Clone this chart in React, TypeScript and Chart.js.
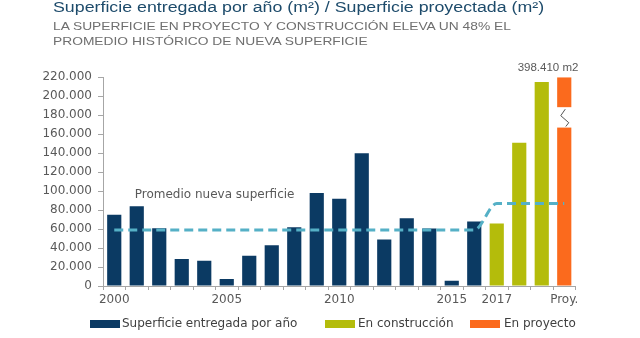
import React, { useEffect, useRef } from 'react';
import { Chart, registerables } from 'chart.js';

Chart.register(...registerables);

const categories = [
  '2000', '2001', '2002', '2003', '2004', '2005', '2006', '2007', '2008', '2009',
  '2010', '2011', '2012', '2013', '2014', '2015', '2016', '2017', '2018', '2019', 'Proy.',
];
const shownTickLabels = ['2000', '2005', '2010', '2015', '2017', 'Proy.'];

const delivered = [
  75000, 84000, 61000, 28500, 26500, 7500, 32000, 43000, 62000, 98000,
  92000, 140000, 49000, 71500, 60500, 5500, 68000, null, null, null, null,
];
const underConstruction = [
  null, null, null, null, null, null, null, null, null, null,
  null, null, null, null, null, null, null, 66000, 151000, 215000, null,
];
// projected bar is cut at the top of the axis (broken bar)
const projected = [
  null, null, null, null, null, null, null, null, null, null,
  null, null, null, null, null, null, null, null, null, null, 220000,
];
const averageNew = [
  59000, 59000, 59000, 59000, 59000, 59000, 59000, 59000, 59000, 59000,
  59000, 59000, 59000, 59000, 59000, 59000, 59000, 87000, 87000, 87000, 87000,
];
const projectedTotal = 398410;
const breakLow = 167000;
const breakHigh = 188500;
const avgLabelValue = 93000;

const yMax = 220000;
const yStep = 20000;

const C_BLUE = '#0b3a63';
const C_GREEN = '#b4bc0b';
const C_ORANGE = '#fb6a1d';
const C_LINE = '#55b0c6';
const C_TEXT = '#595959';
const C_AXIS = '#a6a6a6';

const fmt = (v: number) => String(v).replace(/\B(?=(\d{3})+(?!\d))/g, '.');

const annotations = {
  id: 'annotations',
  afterDatasetsDraw(chart: any) {
    const { ctx, scales } = chart;
    const x = scales.x;
    const y = scales.y;
    const idx = categories.length - 1;
    const meta = chart.getDatasetMeta(2);
    const bar = meta.data[idx] as any;
    const cx = bar ? bar.x : x.getPixelForValue(idx);
    const w = bar ? bar.width : 14;
    const yTop = y.getPixelForValue(breakHigh);
    const yBot = y.getPixelForValue(breakLow);
    ctx.save();
    ctx.fillStyle = '#ffffff';
    ctx.fillRect(cx - w / 2 - 1, yTop, w + 2, yBot - yTop);
    ctx.strokeStyle = '#555555';
    ctx.lineWidth = 1;
    ctx.beginPath();
    ctx.moveTo(cx + 1, yTop + 2);
    ctx.lineTo(cx - 3.5, yTop + 8.5);
    ctx.lineTo(cx + 4.5, yTop + 15.5);
    ctx.lineTo(cx + 1.5, yBot - 1);
    ctx.stroke();

    // total label above projected bar
    ctx.fillStyle = C_TEXT;
    ctx.font = '11.5px "Liberation Sans", Arial, sans-serif';
    ctx.textAlign = 'center';
    ctx.textBaseline = 'alphabetic';
    const lx = (x.getPixelForValue(idx - 1) + x.getPixelForValue(idx)) / 2 - 5;
    ctx.fillText(`${fmt(projectedTotal)} m2`, lx, y.getPixelForValue(yMax) - 6);

    // average label
    ctx.textAlign = 'left';
    ctx.font = '12px "DejaVu Sans", sans-serif';
    ctx.fillText('Promedio nueva superficie', x.getPixelForValue(1) - 2, y.getPixelForValue(avgLabelValue));
    ctx.restore();
  },
};

const legendItems = [
  { label: 'Superficie entregada por año', color: C_BLUE, box: 90, text: 122 },
  { label: 'En construcción', color: C_GREEN, box: 325, text: 358 },
  { label: 'En proyecto', color: C_ORANGE, box: 470, text: 504 },
];

export default function App() {
  const ref = useRef<HTMLCanvasElement | null>(null);

  useEffect(() => {
    if (!ref.current) return;
    const chart = new Chart(ref.current, {
      type: 'bar',
      data: {
        labels: categories,
        datasets: [
          {
            type: 'line',
            label: 'Promedio nueva superficie',
            data: averageNew,
            borderColor: C_LINE,
            borderWidth: 3,
            borderDash: [9, 5],
            pointRadius: 0,
            fill: false,
            cubicInterpolationMode: 'monotone',
            order: 0,
          } as any,
          {
            label: 'Superficie entregada por año',
            data: delivered,
            backgroundColor: C_BLUE,
            skipNull: true,
            order: 1,
          } as any,
          {
            label: 'En proyecto',
            data: projected,
            backgroundColor: C_ORANGE,
            skipNull: true,
            order: 1,
          } as any,
          {
            label: 'En construcción',
            data: underConstruction,
            backgroundColor: C_GREEN,
            skipNull: true,
            order: 1,
          } as any,
        ],
      },
      options: {
        responsive: false,
        animation: false,
        devicePixelRatio: 1,
        datasets: {
          bar: { barPercentage: 0.63, categoryPercentage: 1 },
        },
        layout: { padding: { left: 0, right: 64.5, top: 77.3, bottom: 30 } },
        plugins: {
          legend: { display: false },
          tooltip: { enabled: false },
          title: { display: false },
        },
        scales: {
          x: {
            grid: {
              display: true,
              drawOnChartArea: false,
              drawTicks: true,
              tickLength: 4,
              color: C_AXIS,
              offset: true,
            },
            border: { display: true, color: C_AXIS, width: 1 },
            ticks: {
              autoSkip: false,
              maxRotation: 0,
              minRotation: 0,
              padding: 3,
              color: C_TEXT,
              font: { family: '"DejaVu Sans", sans-serif', size: 12 },
              callback: (_v: any, i: number) =>
                shownTickLabels.includes(categories[i]) ? categories[i] : '',
            },
            afterFit: (s: any) => {
              s.height = 22;
            },
          },
          y: {
            min: 0,
            max: yMax,
            grid: {
              display: true,
              drawOnChartArea: false,
              drawTicks: true,
              tickLength: 5,
              color: C_AXIS,
            },
            border: { display: true, color: C_AXIS, width: 1 },
            ticks: {
              stepSize: yStep,
              padding: 6,
              color: C_TEXT,
              font: { family: '"DejaVu Sans", sans-serif', size: 12 },
              callback: (v: any) => fmt(Number(v)),
            },
            afterFit: (s: any) => {
              s.width = 103;
            },
          },
        },
      },
      plugins: [annotations],
    });
    return () => chart.destroy();
  }, []);

  return (
    <div
      style={{
        position: 'fixed',
        left: 0,
        top: 0,
        width: 640,
        height: 338,
        background: '#ffffff',
        overflow: 'hidden',
      }}
    >
      <canvas ref={ref} width={640} height={338} style={{ position: 'absolute', left: 0, top: 0 }} />
      <div
        style={{
          position: 'absolute',
          left: 53,
          top: 0,
          fontFamily: '"Liberation Sans", Arial, sans-serif',
          fontSize: 14,
          lineHeight: '15px',
          color: '#1d4b6b',
          whiteSpace: 'nowrap',
          transform: 'scaleX(1.27)',
          transformOrigin: 'left top',
        }}
      >
        Superficie entregada por año (m²) / Superficie proyectada (m²)
      </div>
      <div
        style={{
          position: 'absolute',
          left: 53,
          top: 19,
          fontFamily: '"Liberation Sans", Arial, sans-serif',
          fontSize: 10.7,
          lineHeight: '15px',
          color: '#6f6f6f',
          whiteSpace: 'nowrap',
          transform: 'scaleX(1.29)',
          transformOrigin: 'left top',
        }}
      >
        <div>LA SUPERFICIE EN PROYECTO Y CONSTRUCCIÓN ELEVA UN 48% EL</div>
        <div>PROMEDIO HISTÓRICO DE NUEVA SUPERFICIE</div>
      </div>
      {legendItems.map((it) => (
        <React.Fragment key={it.label}>
          <div
            style={{
              position: 'absolute',
              left: it.box,
              top: 320,
              width: 30,
              height: 8,
              background: it.color,
            }}
          />
          <div
            style={{
              position: 'absolute',
              left: it.text,
              top: 317,
              fontFamily: '"DejaVu Sans", sans-serif',
              fontSize: 12,
              lineHeight: '12px',
              color: '#404040',
              whiteSpace: 'nowrap',
            }}
          >
            {it.label}
          </div>
        </React.Fragment>
      ))}
    </div>
  );
}
